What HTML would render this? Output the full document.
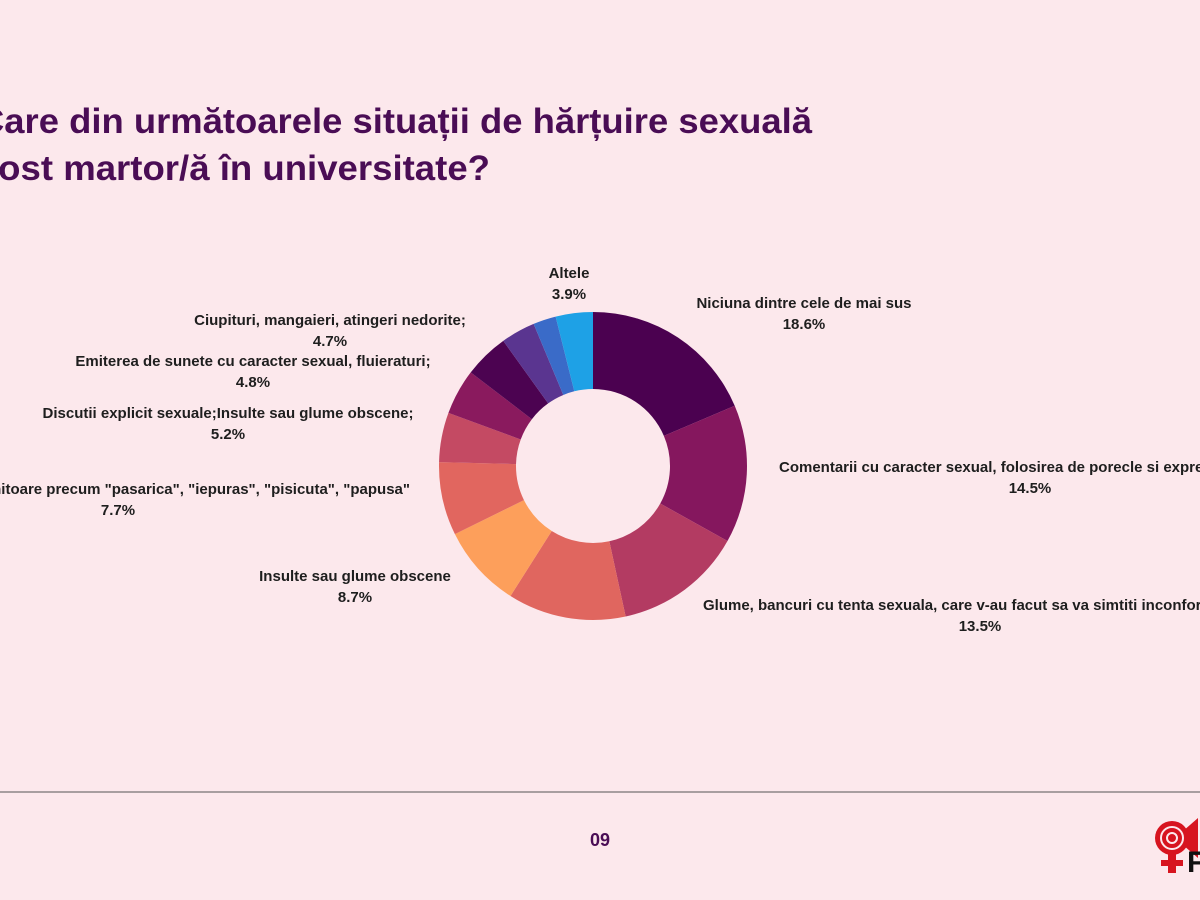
<!DOCTYPE html>
<html><head><meta charset="utf-8"><style>
body{margin:0;background:#fce8ec;}
svg{display:block;font-family:"Liberation Sans",sans-serif;}
.lbl{font-size:15px;font-weight:bold;fill:#1e1e1e;}
</style></head><body>
<svg width="1200" height="900">
<rect width="1200" height="900" fill="#fce8ec"/>
<text x="-22" y="133" font-size="35" font-weight="bold" fill="#4a0d55" textLength="834" lengthAdjust="spacingAndGlyphs">Care din următoarele situații de hărțuire sexuală</text>
<text x="-14" y="180" font-size="35" font-weight="bold" fill="#4a0d55" textLength="504" lengthAdjust="spacingAndGlyphs">fost martor/ă în universitate?</text>
<g id="donut"></g>
<g id="labels"></g>
<line x1="0" y1="792" x2="1200" y2="792" stroke="#555" stroke-width="1"/>
<text x="600" y="846" font-size="18" font-weight="bold" fill="#4a0d55" text-anchor="middle">09</text>
<g>
<path d="M1175 838 L1198 818 L1198 858 Z" fill="#d7141f"/>
<circle cx="1172" cy="838" r="17" fill="#d7141f"/>
<circle cx="1172" cy="838" r="11" fill="none" stroke="#fce8ec" stroke-width="2"/>
<circle cx="1172" cy="838" r="5" fill="none" stroke="#fce8ec" stroke-width="2"/>
<rect x="1168" y="853" width="8" height="20" fill="#d7141f"/>
<rect x="1161" y="860" width="22" height="6" fill="#d7141f"/>
<text x="1187" y="872" font-size="30" font-weight="bold" fill="#111">F</text>
</g>
</svg>
<script>
const values=[18.6,14.5,13.5,12.4,8.7,7.7,5.2,4.8,4.7,3.6,2.4,3.9];
const colors=["#4b0150","#85175e","#b33b62","#e0665f","#fd9f5b","#e1665f","#c44a63","#8a1a5e","#4c0351","#5a3590","#3a6bc8","#1ea1e6"];
const labelLines=[
["Niciuna dintre cele de mai sus","18.6%",804,303,804,"middle"],
["Comentarii cu caracter sexual, folosirea de porecle si expresii","14.5%",1030,467,779,"start"],
["Glume, bancuri cu tenta sexuala, care v-au facut sa va simtiti inconfortabil","13.5%",980,605,703,"start"],
["Insulte sau glume obscene","8.7%",355,576,355,"middle"],
["Apelative jignitoare precum \"pasarica\", \"iepuras\", \"pisicuta\", \"papusa\"","7.7%",118,489,410,"end"],
["Discutii explicit sexuale;Insulte sau glume obscene;","5.2%",228,413,228,"middle"],
["Emiterea de sunete cu caracter sexual, fluieraturi;","4.8%",253,361,253,"middle"],
["Ciupituri, mangaieri, atingeri nedorite;","4.7%",330,320,330,"middle"],
["Altele","3.9%",569,273,569,"middle"]];
const cx=593,cy=466,R=154,r=77,NS="http://www.w3.org/2000/svg";
const total=values.reduce((a,b)=>a+b,0);
const g=document.getElementById('donut');
let a0=0;
function pt(a,rad){return [cx+rad*Math.sin(a),cy-rad*Math.cos(a)];}
values.forEach((v,i)=>{
 const a1=a0+v/total*2*Math.PI;
 const [x1,y1]=pt(a0,R),[x2,y2]=pt(a1,R),[x3,y3]=pt(a1,r),[x4,y4]=pt(a0,r);
 const lg=(a1-a0)>Math.PI?1:0;
 const p=document.createElementNS(NS,'path');
 p.setAttribute('d',`M${x1} ${y1}A${R} ${R} 0 ${lg} 1 ${x2} ${y2}L${x3} ${y3}A${r} ${r} 0 ${lg} 0 ${x4} ${y4}Z`);
 p.setAttribute('fill',colors[i]);
 
 
 g.appendChild(p);
 a0=a1;
});
const lg2=document.getElementById('labels');
labelLines.forEach((l,i)=>{
 [0,1].forEach(k=>{
  const t=document.createElementNS(NS,'text');
  t.setAttribute('class','lbl');
  t.setAttribute('x',k?l[2]:l[4]);
  t.setAttribute('y',l[3]+k*21+5);
  t.style.textAnchor=k?'middle':l[5];
  t.textContent=l[k];
  
  
  lg2.appendChild(t);
 });
});
</script>
</body></html>
